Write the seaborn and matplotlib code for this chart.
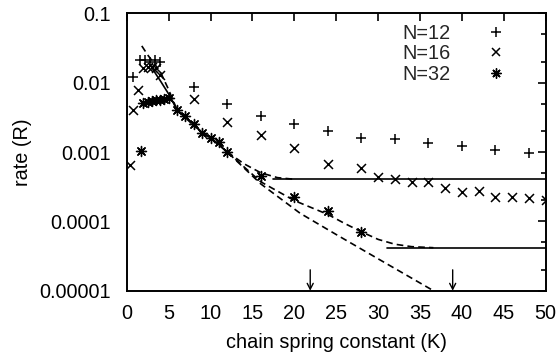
import matplotlib
matplotlib.use("Agg")
import matplotlib.pyplot as plt
import seaborn as sns
import numpy as np
import pandas as pd
from matplotlib.ticker import FixedLocator, LogLocator, NullFormatter, FixedFormatter
from matplotlib.lines import Line2D

# ---------------- data ----------------
K_n12 = [0.8, 1.6, 2.2, 2.8, 3.4, 4.0, 8, 12, 16, 20, 24, 28, 32, 36, 40, 44, 48]
R_n12 = [0.012, 0.021, 0.021, 0.020, 0.021, 0.020, 0.0086, 0.0049, 0.0033, 0.0025,
         0.0020, 0.0016, 0.00155, 0.00133, 0.00122, 0.00108, 0.00097]

K_n16 = [0.4, 0.8, 1.3, 2.0, 2.5, 3.0, 3.5, 4.0, 8, 12, 16, 20, 24, 28, 30, 32, 34,
         36, 38, 40, 42, 44, 46, 48, 50]
R_n16 = [0.00065, 0.0040, 0.0079, 0.016, 0.017, 0.017, 0.016, 0.013, 0.0058, 0.00274,
         0.00176, 0.00113, 0.00068, 0.00058, 0.00043, 0.00041, 0.000366, 0.000366,
         0.000305, 0.000268, 0.000277, 0.000227, 0.000227, 0.000215, 0.000204]

K_n32 = [1.7, 2.0, 2.5, 3.0, 3.5, 4.0, 4.5, 5.0, 6, 7, 8, 9, 10, 11, 12, 16, 20, 24, 28]
R_n32 = [0.00105, 0.0051, 0.0053, 0.0055, 0.0056, 0.0057, 0.0058, 0.0060, 0.0040,
         0.0033, 0.0025, 0.0019, 0.0016, 0.0014, 0.00100, 0.00045, 0.000222,
         0.000141, 0.000071]

# theory curves
K_solid = [2.8, 3.5, 4.0, 5.2, 6, 7, 8, 9, 10, 11, 12]
R_solid = [0.018, 0.0132, 0.0107, 0.0063, 0.0040, 0.0032, 0.0025, 0.0019, 0.0016, 0.0013, 0.00098]

K_dashA = [1.8, 2.5, 3.0, 4.0, 5.0, 6.0, 8.0, 10.0, 12.0, 16.0, 20.7, 25.0, 30.0, 36.6]
logR_dashA = [-1.47, -1.60, -1.68, -1.84, -2.10, -2.39, -2.62, -2.80, -3.0, -3.46,
              -3.884, -4.19, -4.54, -5.0]

K_dashB = [12, 14, 16, 18, 20.1]
logR_dashB = [-3.0, -3.17, -3.30, -3.37, -3.394]

K_dashC = [12, 16, 20, 22, 24, 26, 28, 30, 32, 34, 36.6]
logR_dashC = [-3.0, -3.43, -3.70, -3.80, -3.90, -4.03, -4.15, -4.26, -4.33, -4.365, -4.38]

plateau_start = [17.5, 31.1]
plateau_end = [50, 50]
plateau_R = [0.000404, 0.0000417]

arrow_K = [21.9, 38.9]

legend_labels = ["N=12", "N=16", "N=32"]
xticks = [0, 5, 10, 15, 20, 25, 30, 35, 40, 45, 50]
yticks = [1e-1, 1e-2, 1e-3, 1e-4, 1e-5]
ytick_labels = ["0.1", "0.01", "0.001", "0.0001", "0.00001"]

# ---------------- style ----------------
sns.set_theme(style="white")
plt.rcParams["font.family"] = ["Liberation Sans", "DejaVu Sans"]
FS = 14.3

fig = plt.figure(figsize=(5.57, 3.6), dpi=100)
ax = fig.add_axes([126.7 / 557, 1 - 290.7 / 360, 419 / 557, 277.4 / 360])

ast = (8, 2, 0)
msz = 52
sns.scatterplot(x=K_n12, y=R_n12, marker="+", s=msz, color="black", linewidth=1.1, ax=ax)
sns.scatterplot(x=K_n16, y=R_n16, marker="x", s=msz * 0.8, color="black", linewidth=1.1, ax=ax)
sns.scatterplot(x=K_n32, y=R_n32, marker=ast, s=msz, color="black", linewidth=1.0, ax=ax)

dash = (0, (4, 2.5))
sns.lineplot(x=K_solid, y=R_solid, color="black", lw=1.2, ax=ax, estimator=None)
sns.lineplot(x=K_dashA, y=list(10 ** np.array(logR_dashA)), color="black", lw=1.2,
             linestyle=dash, ax=ax, estimator=None)
sns.lineplot(x=K_dashB, y=list(10 ** np.array(logR_dashB)), color="black", lw=1.2,
             linestyle=dash, ax=ax, estimator=None)
sns.lineplot(x=K_dashC, y=list(10 ** np.array(logR_dashC)), color="black", lw=1.2,
             linestyle=dash, ax=ax, estimator=None)
for k0, k1, r in zip(plateau_start, plateau_end, plateau_R):
    sns.lineplot(x=[k0, k1], y=[r, r], color="black", lw=1.2, ax=ax, estimator=None)

for k in arrow_K:
    ax.annotate("", xy=(k, 1e-5), xytext=(k, 2e-5),
                arrowprops=dict(arrowstyle="->,head_length=0.35,head_width=0.18",
                                color="black", lw=1.0, shrinkA=0, shrinkB=0))

ax.set_yscale("log")
ax.set_xlim(0, 50)
ax.set_ylim(1e-5, 1e-1)
ax.xaxis.set_major_locator(FixedLocator(xticks))
ax.yaxis.set_major_locator(FixedLocator(yticks))
ax.yaxis.set_major_formatter(FixedFormatter(ytick_labels))
ax.yaxis.set_minor_locator(LogLocator(base=10, subs=[2, 5]))
ax.yaxis.set_minor_formatter(NullFormatter())

for s in ax.spines.values():
    s.set_visible(True)
    s.set_color("black")
    s.set_linewidth(1.4)
ax.tick_params(which="both", direction="in", top=True, right=True, color="black",
               width=1.2, labelsize=FS, labelcolor="black")
ax.tick_params(which="major", length=6)
ax.tick_params(which="minor", length=3.3)
ax.tick_params(axis="x", pad=9.5)
ax.tick_params(axis="y", pad=11.5)

ax.set_xlabel("chain spring constant (K)", fontsize=FS, color="black", labelpad=7)
ax.set_ylabel("rate (R)", fontsize=FS, color="black", labelpad=5)

handles = [Line2D([], [], ls="", marker=m, color="black", markersize=ms, mew=mw)
           for m, ms, mw in zip(["+", "x", ast], [7.2, 6.4, 7.2], [1.1, 1.1, 1.0])]
ax.legend(handles, legend_labels, loc="upper right", bbox_to_anchor=(0.905, 0.962),
          frameon=False, markerfirst=False, fontsize=FS, handlelength=1.0,
          handletextpad=1.8, labelspacing=0.08, borderpad=0, borderaxespad=0)

fig.savefig("out.png", dpi=100)
